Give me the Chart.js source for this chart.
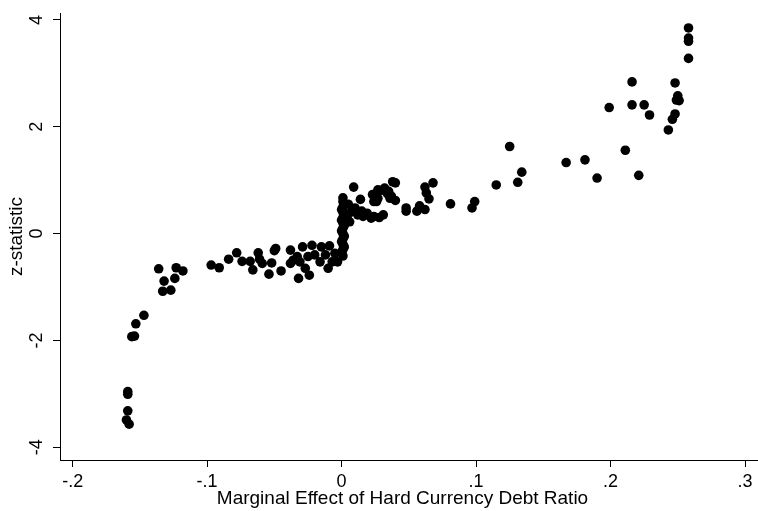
<!DOCTYPE html>
<html>
<head>
<meta charset="utf-8">
<script src="https://cdn.jsdelivr.net/npm/chart.js@4/dist/chart.umd.min.js"></script>
<style>
html,body{margin:0;padding:0;background:#fff;}
#c{display:block;}
</style>
</head>
<body>
<canvas id="c" width="758" height="511"></canvas>
<script>
// Marginal effect (x) values
const marginalEffect = [
  // upper right
  0.258, 0.258, 0.258, 0.258, 0.216, 0.248, 0.250, 0.249, 0.251, 0.199,
  0.216, 0.225, 0.229, 0.248, 0.246, 0.243, 0.125, 0.211, 0.167, 0.181,
  0.134, 0.131, 0.190, 0.221, 0.115,
  // middle right
  0.009, 0.014, 0.027, 0.023, 0.032, 0.035, 0.040, 0.026, 0.037, 0.040,
  0.062, 0.068, 0.063, 0.065, 0.048, 0.048, 0.058, 0.056, 0.062, 0.081,
  0.099, 0.097, 0.030, 0.026, 0.034, 0.038, 0.036, 0.024, 0.027,
  // just right of zero
  0.019, 0.024, 0.031, 0.022, 0.010, 0.016, 0.005, 0.007, 0.012, 0.004,
  0.028, 0.015, 0.006,
  // column at zero
  0.001, 0.001, 0.002, 0.001, 0.000, 0.001, 0.002, 0.001, 0.000, 0.001,
  0.002, 0.001, 0.000, 0.001, 0.002, 0.001, 0.000, 0.001, 0.002, 0.001,
  0.000, 0.001,
  // left cluster
  -0.136, -0.132, -0.133, -0.127, -0.124, -0.123, -0.118, -0.097, -0.091, -0.084,
  -0.078, -0.074, -0.068, -0.062, -0.066, -0.061, -0.059, -0.052, -0.054, -0.050,
  -0.049, -0.045, -0.038, -0.036, -0.038, -0.032, -0.029, -0.022, -0.015, -0.009,
  -0.024, -0.010, -0.033, -0.025, -0.020, -0.012, -0.005, -0.027, -0.003, -0.016,
  -0.031, -0.007,
  // far left
  -0.159, -0.159, -0.159, -0.160, -0.158, -0.154, -0.156, -0.153, -0.147
];
// z-statistic (y) values
const zStatistic = [
  3.85, 3.66, 3.60, 3.28, 2.84, 2.82, 2.58, 2.50, 2.49, 2.36,
  2.41, 2.41, 2.22, 2.24, 2.14, 1.94, 1.63, 1.56, 1.33, 1.38,
  1.15, 0.96, 1.04, 1.09, 0.91,
  0.87, 0.64, 0.82, 0.73, 0.85, 0.79, 0.95, 0.60, 0.70, 0.62,
  0.87, 0.95, 0.76, 0.65, 0.48, 0.42, 0.52, 0.42, 0.45, 0.555,
  0.60, 0.48, 0.81, 0.75, 0.75, 0.97, 0.66, 0.60, 0.66,
  0.38, 0.32, 0.35, 0.29, 0.48, 0.32, 0.55, 0.40, 0.35, 0.30,
  0.30, 0.42, 0.22,
  0.67, 0.60, 0.55, 0.50, 0.45, 0.40, 0.35, 0.30, 0.25, 0.20,
  0.15, 0.10, 0.05, 0.00, -0.05, -0.10, -0.15, -0.20, -0.25, -0.30,
  -0.35, -0.42,
  -0.66, -0.89, -1.08, -1.06, -0.84, -0.64, -0.70, -0.59, -0.64, -0.48,
  -0.36, -0.52, -0.52, -0.36, -0.68, -0.48, -0.56, -0.55, -0.76, -0.32,
  -0.28, -0.70, -0.31, -0.50, -0.56, -0.84, -0.25, -0.22, -0.25, -0.23,
  -0.78, -0.65, -0.43, -0.43, -0.40, -0.40, -0.37, -0.65, -0.53, -0.53,
  -0.53, -0.53,
  -2.96, -3.01, -3.32, -3.49, -3.57, -1.92, -1.93, -1.69, -1.53
];
const xTickValues = [-0.2, -0.1, 0, 0.1, 0.2, 0.3];
const yTickValues = [-4, -2, 0, 2, 4];
const xTitle = 'Marginal Effect of Hard Currency Debt Ratio';
const yTitle = 'z-statistic';

const FONT = "'Liberation Sans', Arial, Helvetica, sans-serif";

function fmtX(v) {
  const r = Math.round(v * 10) / 10;
  if (r === 0) return '0';
  const s = Math.abs(r).toFixed(1).replace(/^0/, '');
  return (r < 0 ? '-' : '') + s;
}
function fmtY(v) {
  const r = Math.round(v);
  return String(r);
}

const points = marginalEffect.map((x, i) => ({ x: x, y: zStatistic[i] }));

const extendAxis = {
  id: 'extendAxis',
  afterDraw(chart) {
    const ctx = chart.ctx;
    const a = chart.chartArea;
    const y = Math.round(a.bottom) + 0.5;
    ctx.save();
    ctx.strokeStyle = '#000';
    ctx.lineWidth = 1;
    ctx.beginPath();
    ctx.moveTo(a.right, y);
    ctx.lineTo(chart.width, y);
    ctx.stroke();
    ctx.restore();
  }
};

new Chart(document.getElementById('c').getContext('2d'), {
  type: 'scatter',
  data: {
    datasets: [{
      data: points,
      backgroundColor: '#000',
      borderColor: '#000',
      pointRadius: 4.8,
      pointBorderWidth: 0,
      pointHoverRadius: 4.8
    }]
  },
  options: {
    responsive: false,
    animation: false,
    devicePixelRatio: 1,
    layout: { padding: { top: 13, right: 13, left: 0, bottom: 0 } },
    plugins: { legend: { display: false }, tooltip: { enabled: false } },
    scales: {
      x: {
        type: 'linear',
        min: -0.2094,
        max: 0.3,
        afterBuildTicks: s => { s.ticks = xTickValues.map(v => ({ value: v })); },
        afterFit: s => { s.height = 51; s.paddingLeft = 0; s.paddingRight = 0; },
        border: { display: true, color: '#000', width: 1 },
        grid: { display: true, drawOnChartArea: false, drawTicks: true, tickLength: 7, color: '#000', tickColor: '#000', lineWidth: 1 },
        ticks: { color: '#000', font: { family: FONT, size: 18 }, padding: 4, minRotation: 0, maxRotation: 0, autoSkip: false, callback: v => fmtX(v) },
        title: { display: true, text: xTitle, color: '#000', font: { family: FONT, size: 19 }, padding: { top: 0, bottom: 1 } }
      },
      y: {
        type: 'linear',
        min: -4.24,
        max: 4.13,
        afterBuildTicks: s => { s.ticks = yTickValues.map(v => ({ value: v })); },
        afterFit: s => { s.width = 60; s.paddingTop = 0; s.paddingBottom = 0; },
        border: { display: true, color: '#000', width: 1 },
        grid: { display: true, drawOnChartArea: false, drawTicks: true, tickLength: 7, color: '#000', tickColor: '#000', lineWidth: 1 },
        ticks: { color: '#000', font: { family: FONT, size: 18 }, padding: 8, minRotation: 90, maxRotation: 90, crossAlign: 'center', autoSkip: false, callback: v => fmtY(v) },
        title: { display: true, text: yTitle, color: '#000', font: { family: FONT, size: 19 }, padding: { top: 5.5, bottom: 0 } }
      }
    }
  },
  plugins: [extendAxis]
});
</script>
</body>
</html>
